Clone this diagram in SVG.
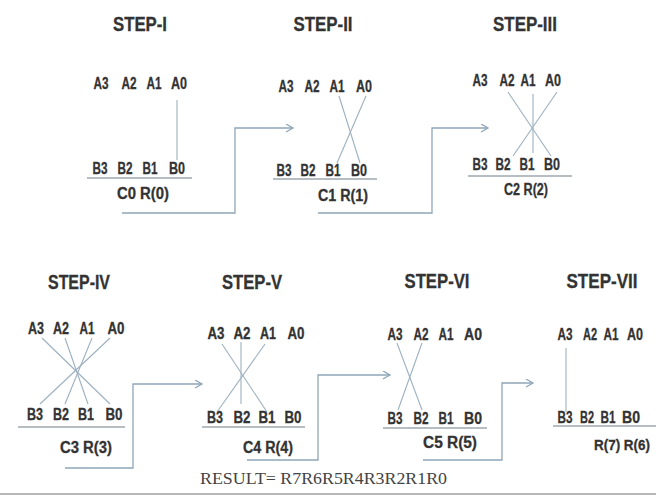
<svg xmlns="http://www.w3.org/2000/svg" width="656" height="501" viewBox="0 0 656 501">
<style>
  .t{font-family:"Liberation Sans",Arial,sans-serif;font-weight:bold;fill:#333333;text-anchor:middle;stroke:#333333;stroke-width:0.3}
  .title{font-size:20px}
  .tok{font-size:16px}
  .c{font-size:16px}
  .ln{stroke:#9cb0c0;stroke-width:1.1;fill:none}
  .ul{stroke:#6f7f8a;stroke-width:1.2;fill:none}
  .con{stroke:#8ea6b8;stroke-width:1.3;fill:none;marker-end:url(#arr)}
  .res{font-family:"Liberation Serif","Times New Roman",serif;font-size:17px;fill:#444}
</style>
<defs>
  <marker id="arr" markerUnits="userSpaceOnUse" markerWidth="10" markerHeight="10" refX="8" refY="4.5" orient="auto">
    <path d="M1,0.5 L8,4.5 L1,8.5" fill="none" stroke="#8ea6b8" stroke-width="1.3"/>
  </marker>
</defs>
<rect width="656" height="501" fill="#ffffff"/>

<g id="step1">
  <text class="t title" x="140" y="31" textLength="54" lengthAdjust="spacingAndGlyphs">STEP-I</text>
  <text class="t tok" x="101" y="89" textLength="15" lengthAdjust="spacingAndGlyphs">A3</text><text class="t tok" x="129" y="89" textLength="15" lengthAdjust="spacingAndGlyphs">A2</text><text class="t tok" x="154" y="89" textLength="15" lengthAdjust="spacingAndGlyphs">A1</text><text class="t tok" x="179" y="89" textLength="16" lengthAdjust="spacingAndGlyphs">A0</text>
  <line class="ln" x1="177" y1="100" x2="177" y2="160"/>
  <text class="t tok" x="100" y="174" textLength="15" lengthAdjust="spacingAndGlyphs">B3</text><text class="t tok" x="125" y="174" textLength="15" lengthAdjust="spacingAndGlyphs">B2</text><text class="t tok" x="150" y="174" textLength="15" lengthAdjust="spacingAndGlyphs">B1</text><text class="t tok" x="177" y="174" textLength="16" lengthAdjust="spacingAndGlyphs">B0</text>
  <line class="ul" x1="87" y1="178" x2="192" y2="178"/>
  <text class="t c" x="143" y="199" textLength="52" lengthAdjust="spacingAndGlyphs">C0 R(0)</text>
</g>

<g id="step2">
  <text class="t title" x="323" y="31" textLength="59" lengthAdjust="spacingAndGlyphs">STEP-II</text>
  <text class="t tok" x="286" y="92" textLength="15" lengthAdjust="spacingAndGlyphs">A3</text><text class="t tok" x="312" y="92" textLength="15" lengthAdjust="spacingAndGlyphs">A2</text><text class="t tok" x="337" y="92" textLength="15" lengthAdjust="spacingAndGlyphs">A1</text><text class="t tok" x="364" y="92" textLength="16" lengthAdjust="spacingAndGlyphs">A0</text>
  <line class="ln" x1="339" y1="96" x2="360" y2="163"/>
  <line class="ln" x1="366" y1="96" x2="337" y2="163"/>
  <text class="t tok" x="284" y="176" textLength="15" lengthAdjust="spacingAndGlyphs">B3</text><text class="t tok" x="308" y="176" textLength="15" lengthAdjust="spacingAndGlyphs">B2</text><text class="t tok" x="333" y="176" textLength="15" lengthAdjust="spacingAndGlyphs">B1</text><text class="t tok" x="359" y="176" textLength="16" lengthAdjust="spacingAndGlyphs">B0</text>
  <line class="ul" x1="273" y1="179" x2="377" y2="179"/>
  <text class="t c" x="343" y="201" textLength="50" lengthAdjust="spacingAndGlyphs">C1 R(1)</text>
</g>

<g id="step3">
  <text class="t title" x="525" y="31" textLength="64" lengthAdjust="spacingAndGlyphs">STEP-III</text>
  <text class="t tok" x="480" y="86" textLength="15" lengthAdjust="spacingAndGlyphs">A3</text><text class="t tok" x="507" y="86" textLength="15" lengthAdjust="spacingAndGlyphs">A2</text><text class="t tok" x="528" y="86" textLength="15" lengthAdjust="spacingAndGlyphs">A1</text><text class="t tok" x="553" y="86" textLength="16" lengthAdjust="spacingAndGlyphs">A0</text>
  <line class="ln" x1="508" y1="92" x2="551" y2="156"/>
  <line class="ln" x1="557" y1="92" x2="513" y2="156"/>
  <line class="ln" x1="533" y1="94" x2="533" y2="153"/>
  <text class="t tok" x="480" y="170" textLength="15" lengthAdjust="spacingAndGlyphs">B3</text><text class="t tok" x="503" y="170" textLength="15" lengthAdjust="spacingAndGlyphs">B2</text><text class="t tok" x="527" y="170" textLength="15" lengthAdjust="spacingAndGlyphs">B1</text><text class="t tok" x="552" y="170" textLength="16" lengthAdjust="spacingAndGlyphs">B0</text>
  <line class="ul" x1="468" y1="176" x2="572" y2="176"/>
  <text class="t c" x="526" y="195" textLength="44" lengthAdjust="spacingAndGlyphs">C2 R(2)</text>
</g>

<g id="step4">
  <text class="t title" x="79" y="289" textLength="62" lengthAdjust="spacingAndGlyphs">STEP-IV</text>
  <text class="t tok" x="36" y="334" textLength="16" lengthAdjust="spacingAndGlyphs">A3</text><text class="t tok" x="61" y="334" textLength="16" lengthAdjust="spacingAndGlyphs">A2</text><text class="t tok" x="87" y="334" textLength="15" lengthAdjust="spacingAndGlyphs">A1</text><text class="t tok" x="116" y="334" textLength="17" lengthAdjust="spacingAndGlyphs">A0</text>
  <line class="ln" x1="42" y1="338" x2="110" y2="404"/>
  <line class="ln" x1="110" y1="338" x2="40" y2="404"/>
  <line class="ln" x1="65" y1="338" x2="88" y2="404"/>
  <line class="ln" x1="92" y1="338" x2="65" y2="404"/>
  <text class="t tok" x="35" y="420" textLength="16" lengthAdjust="spacingAndGlyphs">B3</text><text class="t tok" x="61" y="420" textLength="16" lengthAdjust="spacingAndGlyphs">B2</text><text class="t tok" x="86" y="420" textLength="16" lengthAdjust="spacingAndGlyphs">B1</text><text class="t tok" x="114" y="420" textLength="17" lengthAdjust="spacingAndGlyphs">B0</text>
  <line class="ul" x1="18" y1="427" x2="125" y2="427"/>
  <text class="t c" x="86" y="453" textLength="52" lengthAdjust="spacingAndGlyphs">C3 R(3)</text>
</g>

<g id="step5">
  <text class="t title" x="252" y="289" textLength="60" lengthAdjust="spacingAndGlyphs">STEP-V</text>
  <text class="t tok" x="216" y="339" textLength="17" lengthAdjust="spacingAndGlyphs">A3</text><text class="t tok" x="242" y="339" textLength="17" lengthAdjust="spacingAndGlyphs">A2</text><text class="t tok" x="268" y="339" textLength="16" lengthAdjust="spacingAndGlyphs">A1</text><text class="t tok" x="296" y="339" textLength="17" lengthAdjust="spacingAndGlyphs">A0</text>
  <line class="ln" x1="222" y1="344" x2="267" y2="412"/>
  <line class="ln" x1="265" y1="344" x2="217" y2="412"/>
  <line class="ln" x1="241" y1="342" x2="241" y2="404"/>
  <text class="t tok" x="215" y="423" textLength="16" lengthAdjust="spacingAndGlyphs">B3</text><text class="t tok" x="242" y="423" textLength="17" lengthAdjust="spacingAndGlyphs">B2</text><text class="t tok" x="267" y="423" textLength="17" lengthAdjust="spacingAndGlyphs">B1</text><text class="t tok" x="293" y="423" textLength="17" lengthAdjust="spacingAndGlyphs">B0</text>
  <line class="ul" x1="202" y1="427" x2="305" y2="427"/>
  <text class="t c" x="268" y="453" textLength="50" lengthAdjust="spacingAndGlyphs">C4 R(4)</text>
</g>

<g id="step6">
  <text class="t title" x="437" y="288" textLength="65" lengthAdjust="spacingAndGlyphs">STEP-VI</text>
  <text class="t tok" x="395" y="340" textLength="15" lengthAdjust="spacingAndGlyphs">A3</text><text class="t tok" x="421" y="340" textLength="15" lengthAdjust="spacingAndGlyphs">A2</text><text class="t tok" x="446" y="340" textLength="15" lengthAdjust="spacingAndGlyphs">A1</text><text class="t tok" x="473" y="340" textLength="18" lengthAdjust="spacingAndGlyphs">A0</text>
  <line class="ln" x1="397" y1="343" x2="422" y2="410"/>
  <line class="ln" x1="422" y1="343" x2="398" y2="410"/>
  <text class="t tok" x="395" y="424" textLength="15" lengthAdjust="spacingAndGlyphs">B3</text><text class="t tok" x="421" y="424" textLength="15" lengthAdjust="spacingAndGlyphs">B2</text><text class="t tok" x="446" y="424" textLength="15" lengthAdjust="spacingAndGlyphs">B1</text><text class="t tok" x="473" y="424" textLength="18" lengthAdjust="spacingAndGlyphs">B0</text>
  <line class="ul" x1="383" y1="428" x2="487" y2="428"/>
  <text class="t c" x="450" y="448" textLength="54" lengthAdjust="spacingAndGlyphs">C5 R(5)</text>
</g>

<g id="step7">
  <text class="t title" x="602" y="288" textLength="71" lengthAdjust="spacingAndGlyphs">STEP-VII</text>
  <text class="t tok" x="565" y="340" textLength="15" lengthAdjust="spacingAndGlyphs">A3</text><text class="t tok" x="590" y="340" textLength="14" lengthAdjust="spacingAndGlyphs">A2</text><text class="t tok" x="611" y="340" textLength="15" lengthAdjust="spacingAndGlyphs">A1</text><text class="t tok" x="635" y="340" textLength="16" lengthAdjust="spacingAndGlyphs">A0</text>
  <line class="ln" x1="566" y1="348" x2="566" y2="412"/>
  <text class="t tok" x="565" y="423" textLength="15" lengthAdjust="spacingAndGlyphs">B3</text><text class="t tok" x="587" y="423" textLength="14" lengthAdjust="spacingAndGlyphs">B2</text><text class="t tok" x="608" y="423" textLength="15" lengthAdjust="spacingAndGlyphs">B1</text><text class="t tok" x="631" y="423" textLength="18" lengthAdjust="spacingAndGlyphs">B0</text>
  <line class="ul" x1="553" y1="426" x2="656" y2="426"/>
  <text class="t" x="594" y="450" style="font-size:14px;text-anchor:start" textLength="56" lengthAdjust="spacingAndGlyphs">R(7) R(6)</text>
</g>

<g id="connectors">
  <polyline class="con" points="122,213 235,213 235,128 293,128"/>
  <polyline class="con" points="318,213 432,213 432,128 488,128"/>
  <polyline class="con" points="65,468 133,468 133,384 202,384"/>
  <polyline class="con" points="247,460 318,460 318,375 390,375"/>
  <polyline class="con" points="423,460 502,460 502,383 533,383"/>
</g>

<g id="result">
  <text class="res" x="200" y="484" textLength="247" lengthAdjust="spacingAndGlyphs">RESULT= R7R6R5R4R3R2R1R0</text>
</g>
<line x1="0" y1="494" x2="656" y2="494" stroke="#a0a0a0" stroke-width="1.5"/>
</svg>
